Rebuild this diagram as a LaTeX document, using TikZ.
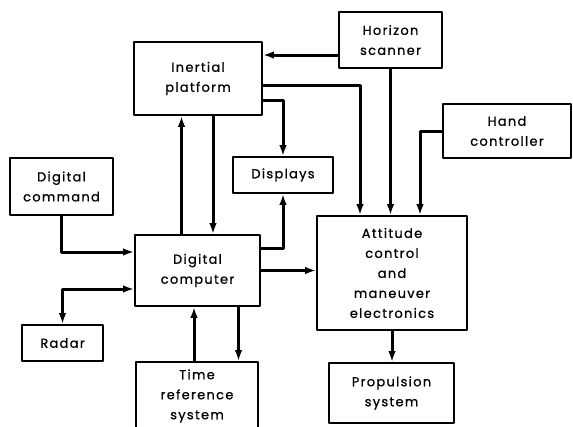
\documentclass[tikz,border=0pt]{standalone}
\usepackage{fontspec}
\setmainfont{Poppins}[LetterSpace=10, FakeBold=0.8]
\usetikzlibrary{arrows.meta}
\tikzset{
  blk/.style={draw, line width=1.7pt, align=center, inner sep=0pt,
    font=\fontsize{13}{20}\selectfont},
  tip/.tip={Latex[length=11pt,width=7.5pt]},
  arr/.style={line width=3pt, -tip},
}
\begin{document}
\begin{tikzpicture}[x=1pt, y=-1pt, line join=round]
\useasboundingbox (0,0) rectangle (573,426);
\node[blk, minimum width=128pt, minimum height=73pt] (inertial) at (198,78.5) {Inertial\\platform};
\node[blk, minimum width=103pt, minimum height=56pt] (horizon) at (390.5,40) {Horizon\\scanner};
\node[blk, minimum width=128pt, minimum height=54pt] (hand) at (507,131) {Hand\\controller};
\node[blk, minimum width=100pt, minimum height=36pt] (displays) at (283,175) {Displays};
\node[blk, minimum width=103pt, minimum height=57pt] (command) at (61.5,186.5) {Digital\\command};
\node[blk, minimum width=125pt, minimum height=71pt] (computer) at (197.5,270.5) {Digital\\computer};
\node[blk, minimum width=81pt, minimum height=36pt] (radar) at (62.5,343) {Radar};
\node[blk, minimum width=122pt, minimum height=68pt] (timeref) at (197,396) {Time\\reference\\system};
\node[blk, minimum width=150pt, minimum height=114pt] (attitude) at (392,273) {Attitude\\control\\and\\maneuver\\electronics};
\node[blk, minimum width=125pt, minimum height=60pt] (propulsion) at (391.5,393) {Propulsion\\system};

\draw[arr] ([yshift=-15pt]horizon.west) coordinate (hs) -- (hs -| inertial.east);
\draw[arr] (horizon.south) -- (horizon.south |- attitude.north);
\draw[arr] ([yshift=-6.5pt]inertial.east) -| ([xshift=-32pt]attitude.north);
\draw[arr] (hand.west) -| ([xshift=28pt]attitude.north);
\draw[arr] ([yshift=-21.5pt]inertial.east) -| (displays.north);
\draw[arr] ([yshift=-14pt]computer.north east) -| (displays.south);
\draw[arr] ([xshift=-16pt]computer.north) coordinate (cu) -- (cu |- inertial.south);
\draw[arr] ([xshift=15pt]inertial.south) coordinate (id) -- (id |- computer.north);
\draw[arr] (computer.east) -- (computer.east -| attitude.west);
\draw[arr] (command.south) |- ([yshift=18.5pt]computer.west);
\draw[arr, tip-tip] ([yshift=-18.5pt]computer.west) -| (radar.north);
\draw[arr] ([xshift=-3pt]timeref.north) coordinate (tu) -- (tu |- computer.south);
\draw[arr] ([xshift=41pt]computer.south) coordinate (cd) -- (cd |- timeref.north);
\draw[arr] (attitude.south) -- (attitude.south |- propulsion.north);
\end{tikzpicture}
\end{document}
